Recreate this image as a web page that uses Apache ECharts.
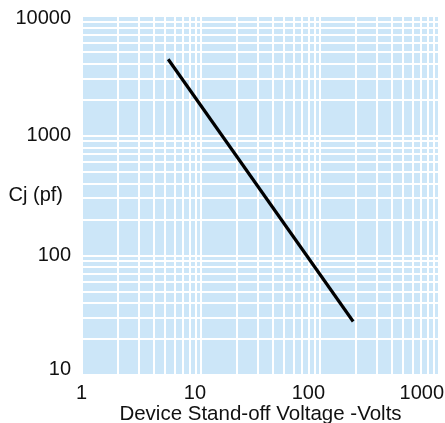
<!DOCTYPE html>
<html>
<head>
<meta charset="utf-8">
<script src="https://cdn.jsdelivr.net/npm/echarts@6/dist/echarts.min.js"></script>
<style>
html,body{margin:0;padding:0;background:#fff;}
#chart{width:445px;height:423px;}
</style>
</head>
<body>
<div id="chart"></div>
<script>
// Data
var voltage = [5.3, 190];          // Device stand-off voltage (V)
var capacitance = [4350, 28];      // Cj (pF)
var xDecades = [1, 10, 100];       // x grid decades
var yDecades = [10, 100, 1000];    // y grid decades
var gridMultipliers = [1, 2, 3, 4, 5, 6, 7, 8, 9];

var xGrid = [];
xDecades.forEach(function (d) { gridMultipliers.forEach(function (m) { xGrid.push(d * m); }); });
xGrid.push(1000);
var yGrid = [];
yDecades.forEach(function (d) { gridMultipliers.forEach(function (m) { yGrid.push(d * m); }); });
yGrid.push(10000);

var gridLines = [];
xGrid.forEach(function (v) { gridLines.push({ xAxis: v }); });
yGrid.forEach(function (v) { gridLines.push({ yAxis: v }); });

var chart = echarts.init(document.getElementById('chart'));
var font = 'Liberation Sans, Arial, sans-serif';
function fmt(v) { return String(Math.round(v)); }
function fmtY(v) {
  var s = String(Math.round(v));
  if (Math.round(v) === 10) return '{lo|' + s + '}';
  if (Math.round(v) === 10000) return '{hi|' + s + '}';
  return s;
}
chart.setOption({
  animation: false,
  grid: {
    left: 82, right: 6, top: 16, bottom: 48,
    outerBoundsMode: 'none', containLabel: false,
    show: true, backgroundColor: '#cce6f8', borderWidth: 0
  },
  xAxis: {
    type: 'log', logBase: 10, min: 1, max: 1000,
    name: 'Device Stand-off Voltage -Volts',
    nameLocation: 'middle', nameGap: 29, nameMoveOverlap: false,
    nameTextStyle: { fontFamily: font, fontSize: 20.5, color: '#111' },
    axisLine: { show: false }, axisTick: { show: false },
    splitLine: { show: false },
    axisLabel: { fontFamily: font, fontSize: 20, color: '#111', margin: 8, align: 'right', padding: [0, -5, 0, 0], formatter: fmt }
  },
  yAxis: {
    type: 'log', logBase: 10, min: 10, max: 10000,
    name: 'Cj (pf)',
    nameLocation: 'middle', nameGap: 19, nameRotate: 0, nameMoveOverlap: false,
    nameTextStyle: { fontFamily: font, fontSize: 20, color: '#111', align: 'right', padding: [0, 0, 6, 0] },
    axisLine: { show: false }, axisTick: { show: false },
    splitLine: { show: false },
    axisLabel: {
      fontFamily: font, fontSize: 20, color: '#111', margin: 11, formatter: fmtY,
      rich: {
        lo: { fontFamily: font, fontSize: 20, color: '#111', padding: [0, 0, 11, 0] },
        hi: { fontFamily: font, fontSize: 20, color: '#111', padding: [4, 0, 0, 0] }
      }
    }
  },
  series: [{
    type: 'line',
    data: voltage.map(function (v, i) { return [v, capacitance[i]]; }),
    symbol: 'none',
    lineStyle: { color: '#000', width: 3.2 },
    z: 5,
    markLine: {
      silent: true, symbol: 'none', label: { show: false },
      lineStyle: { color: '#ffffff', width: 2, type: 'solid' },
      data: gridLines, z: 1
    }
  }]
});
</script>
</body>
</html>
